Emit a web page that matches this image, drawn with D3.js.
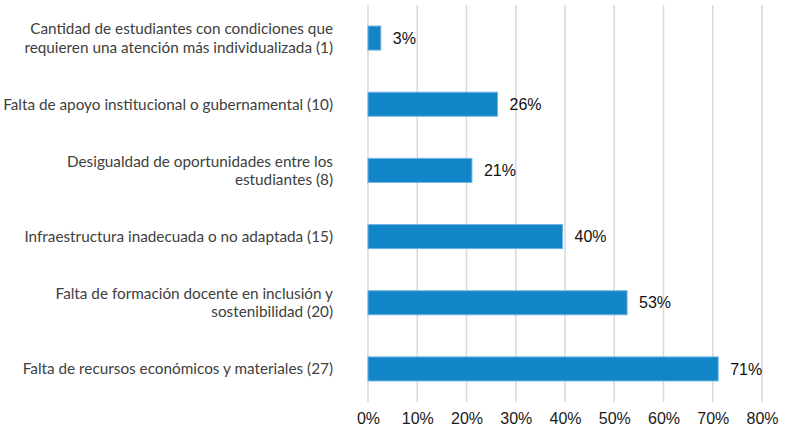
<!DOCTYPE html>
<html><head><meta charset="utf-8">
<script src="https://cdn.jsdelivr.net/npm/d3@7"></script>
<style>body{margin:0;background:#fff}</style>
</head><body>
<svg id="c" width="805" height="447"></svg>
<script>
const categories = [
  ["Cantidad de estudiantes con condiciones que", "requieren una atención más individualizada (1)"],
  ["Falta de apoyo institucional o gubernamental (10)"],
  ["Desigualdad de oportunidades entre los", "estudiantes (8)"],
  ["Infraestructura inadecuada o no adaptada (15)"],
  ["Falta de formación docente en inclusión y", "sostenibilidad (20)"],
  ["Falta de recursos económicos y materiales (27)"]
];
const values = [2.6, 26.3, 21.1, 39.5, 52.6, 71.1];
const valueLabels = ["3%", "26%", "21%", "40%", "53%", "71%"];
const ticks = [0, 10, 20, 30, 40, 50, 60, 70, 80];

const svg = d3.select("#c");
const x = d3.scaleLinear().domain([0, 80]).range([368, 762]);
const y = d3.scaleBand().domain(d3.range(categories.length)).range([5, 402]).paddingInner(0.637).paddingOuter(0.318);

svg.append("g").selectAll("line").data(ticks).join("line")
  .attr("x1", d => x(d)).attr("x2", d => x(d))
  .attr("y1", 5).attr("y2", 402)
  .attr("stroke", "#d9d9d9").attr("stroke-width", 1.5);

const xAxis = d3.axisBottom(x).tickValues(ticks).tickFormat(d => d + "%").tickSize(0).tickPadding(0);
const ax = svg.append("g").attr("transform", "translate(0,402)").call(xAxis);
ax.select(".domain").remove();
ax.selectAll("text").attr("y", 22).attr("dy", 0)
  .style("font-family", "Liberation Sans, Arial, sans-serif").style("font-size", "16px").attr("fill", "#1a1a1a");

svg.append("g").selectAll("rect").data(values).join("rect")
  .attr("x", x(0)).attr("y", (d, i) => y(i))
  .attr("width", d => x(d) - x(0)).attr("height", y.bandwidth())
  .attr("fill", "#1185c8").attr("stroke", "#6fb2e0").attr("stroke-width", 1);

svg.append("g").selectAll("text").data(values).join("text")
  .attr("x", d => x(d) + 12).attr("y", (d, i) => y(i) + y.bandwidth() / 2)
  .attr("dy", "0.35em")
  .style("font-family", "Liberation Sans, Arial, sans-serif").style("font-size", "16px").attr("fill", "#111")
  .text((d, i) => valueLabels[i]);

const lab = svg.append("g").selectAll("text").data(categories).join("text")
  .attr("text-anchor", "end")
  .style("font-family", "Lato, sans-serif").style("font-size", "15.3px").attr("fill", "#404040")
  .attr("transform", (d, i) => `translate(333,${y(i) + y.bandwidth() / 2})`);
lab.each(function(d) {
  const t = d3.select(this);
  const n = d.length;
  d.forEach((line, k) => {
    t.append("tspan").attr("x", 0).attr("y", (k - (n - 1) / 2) * 18.5).attr("dy", "0.35em").text(line);
  });
});
</script>
</body></html>
